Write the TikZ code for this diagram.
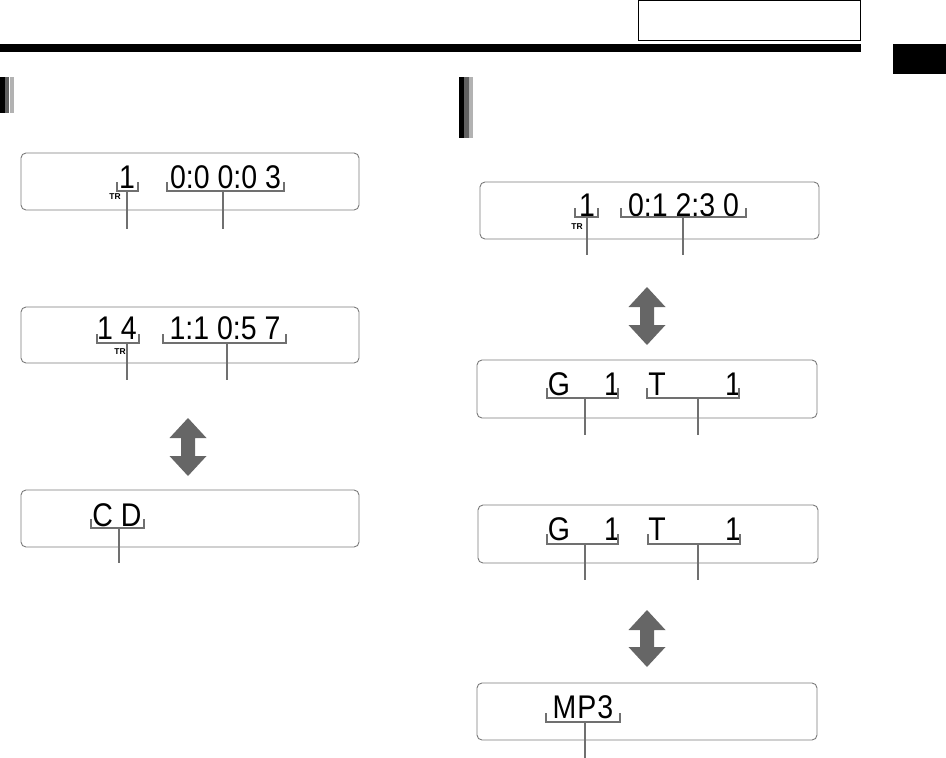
\documentclass[tikz,border=0pt]{standalone}
\usepackage{fontspec}
\usepackage{graphicx}
\setmainfont{Liberation Sans}
\definecolor{brkgray}{HTML}{707070}
\definecolor{boxgray}{HTML}{7A7A7A}
\definecolor{arrgray}{HTML}{666666}
\newcommand{\udarrow}[3]{%
  \fill[arrgray] (#1,#2) -- ({#1+18.5},{#2+20}) -- ({#1+7},{#2+20}) -- ({#1+7},{#3-20})
   -- ({#1+18.5},{#3-20}) -- (#1,#3) -- ({#1-18.5},{#3-20}) -- ({#1-7},{#3-20})
   -- ({#1-7},{#2+20}) -- ({#1-18.5},{#2+20}) -- cycle;}
\newcommand{\lcdtxt}[1]{\scalebox{1}[1.15]{#1}}
\begin{document}
\begin{tikzpicture}[x=1pt,y=-1pt,
  lcd/.style={draw=boxgray,line width=0.9pt,rounded corners=5pt},
  brk/.style={draw=brkgray,line width=1.6pt},
  stem/.style={draw=brkgray,line width=1.6pt},
  big/.style={inner sep=0pt,anchor=base,font=\fontsize{28.5}{31}\selectfont},
  trlab/.style={inner sep=0pt,anchor=center,font=\fontsize{8.5}{9}\selectfont\bfseries}]
\useasboundingbox (0,0) rectangle (946,758);
% header
\draw[line width=1pt] (638.5,0.8) rectangle (860,40);
\fill[black] (0,44) rectangle (861,52);
\fill[black] (893,44) rectangle (946,74);
% section markers
\fill[black] (0,77) rectangle (5,113);
\fill[black!62] (5,77) rectangle (9,113);
\fill[black!30] (10,77) rectangle (14,113);
\fill[black] (459,77) rectangle (464,138);
\fill[black!62] (464,77) rectangle (469,138);
\fill[black!30] (469,77) rectangle (473,138);

% ---------- left column ----------
\draw[lcd] (21,153) rectangle (359,210);
\node[big] (l1a) at (127,188) {\lcdtxt{1}};
\node[big] (l1b) at (225.5,188) {\lcdtxt{0:0 0:0 3}};
\node[trlab] (l1tr) at (115,197) {TR};
\draw[brk] (117,182) -- (117,191) -- (138,191) -- (138,182);
\draw[brk] (167,182) -- (167,191) -- (284,191) -- (284,182);
\coordinate (l1s1) at (127,229); \coordinate (l1s2) at (223,229);
\draw[stem] (127,191) -- (l1s1);
\draw[stem] (223,191) -- (l1s2);

\draw[lcd] (21,307) rectangle (359,363);
\node[big] (l2a) at (117,339) {\lcdtxt{1 4}};
\node[big] (l2b) at (225,339) {\lcdtxt{1:1 0:5 7}};
\node[trlab] (l2tr) at (120,352) {TR};
\draw[brk] (97,334) -- (97,343) -- (139,343) -- (139,334);
\draw[brk] (163,334) -- (163,343) -- (286,343) -- (286,334);
\coordinate (l2s1) at (127,380); \coordinate (l2s2) at (227,380);
\draw[stem] (127,343) -- (l2s1);
\draw[stem] (227,343) -- (l2s2);

\udarrow{188}{418}{476}

\draw[lcd] (21,490) rectangle (359,547);
\node[big] (l3a) at (117,526) {\lcdtxt{C D}};
\draw[brk] (91,519) -- (91,528) -- (144,528) -- (144,519);
\coordinate (l3s1) at (119,563);
\draw[stem] (119,528) -- (l3s1);

% ---------- right column ----------
\draw[lcd] (480,182) rectangle (819,239);
\node[big] (r1a) at (587,216) {\lcdtxt{1}};
\node[big] (r1b) at (683.5,216) {\lcdtxt{0:1 2:3 0}};
\node[trlab] (r1tr) at (577,227) {TR};
\draw[brk] (575,208) -- (575,217) -- (598,217) -- (598,208);
\draw[brk] (621,208) -- (621,217) -- (746,217) -- (746,208);
\coordinate (r1s1) at (587,255); \coordinate (r1s2) at (683,255);
\draw[stem] (587,217) -- (r1s1);
\draw[stem] (683,217) -- (r1s2);

\udarrow{647}{287}{345}

\draw[lcd] (477,360) rectangle (817,418);
\node[big] (r2g) at (559,395) {\lcdtxt{G}};
\node[big] (r2g1) at (612,395) {\lcdtxt{1}};
\node[big] (r2t) at (657,395) {\lcdtxt{T}};
\node[big] (r2t1) at (733,395) {\lcdtxt{1}};
\draw[brk] (547,388) -- (547,398) -- (618,398) -- (618,388);
\draw[brk] (647,388) -- (647,398) -- (739,398) -- (739,388);
\coordinate (r2s1) at (585,435); \coordinate (r2s2) at (698,435);
\draw[stem] (585,398) -- (r2s1);
\draw[stem] (698,398) -- (r2s2);

\draw[lcd] (478,505) rectangle (818,563);
\node[big] (r3g) at (559,540) {\lcdtxt{G}};
\node[big] (r3g1) at (612,540) {\lcdtxt{1}};
\node[big] (r3t) at (657,540) {\lcdtxt{T}};
\node[big] (r3t1) at (733,540) {\lcdtxt{1}};
\draw[brk] (547,534) -- (547,544) -- (618,544) -- (618,534);
\draw[brk] (648,534) -- (648,544) -- (740,544) -- (740,534);
\coordinate (r3s1) at (585,580); \coordinate (r3s2) at (698,580);
\draw[stem] (585,544) -- (r3s1);
\draw[stem] (698,544) -- (r3s2);

\udarrow{647}{610}{667}

\draw[lcd] (477,683) rectangle (817,740);
\node[big] (r4a) at (583,718) {\lcdtxt{M\kern1ptP\kern1pt3}};
\draw[brk] (546,713) -- (546,722) -- (620,722) -- (620,713);
\coordinate (r4s1) at (585,758);
\draw[stem] (585,722) -- (r4s1);
\end{tikzpicture}
\end{document}
